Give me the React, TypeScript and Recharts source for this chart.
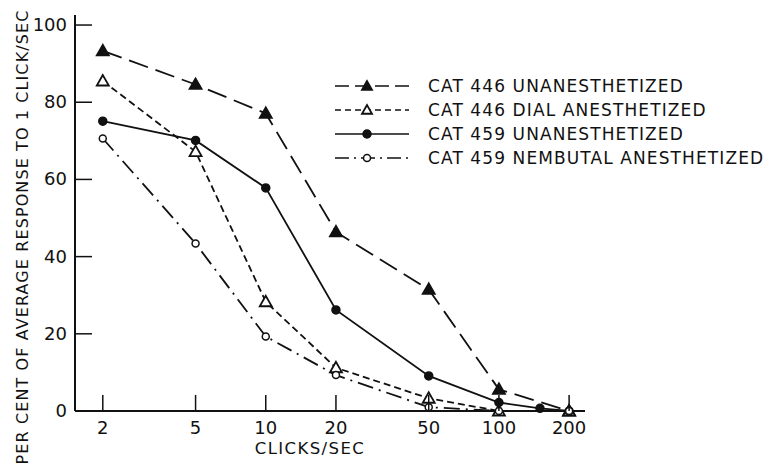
import { LineChart, Line, XAxis, YAxis, Legend } from "recharts";

// click rates (clicks/sec) at which responses were measured
const RATES = [2, 5, 10, 20, 50, 100, 200];
const RATES_459_AWAKE = [2, 5, 10, 20, 50, 100, 150, 200];

// per cent of the average response to 1 click/sec
const CAT446_AWAKE = [93.3, 84.6, 77.1, 46.4, 31.5, 5.6, 0];
const CAT446_DIAL = [85.5, 67.2, 28.3, 11.2, 3.3, 0, 0];
const CAT459_AWAKE = [75.1, 70.1, 57.8, 26.2, 9.1, 2.2, 0.7, 0];
const CAT459_NEMBUTAL = [70.6, 43.4, 19.3, 9.3, 1.0, 0, 0];

const X_TICKS = [2, 5, 10, 20, 50, 100, 200];
const Y_TICKS = [0, 20, 40, 60, 80, 100];

const INK = "#111";
const FONT = "'DejaVu Sans', sans-serif";

type Marker = "triFilled" | "triOpen" | "dotFilled" | "dotOpen";

const zip = (xs: number[], ys: number[]) =>
  xs.map((x, i) => ({ rate: x, value: ys[i] }));

const SERIES: {
  name: string;
  data: { rate: number; value: number }[];
  dash?: string;
  legendDash?: string;
  marker: Marker;
}[] = [
  {
    name: "CAT 446 UNANESTHETIZED",
    data: zip(RATES, CAT446_AWAKE),
    dash: "20 8",
    legendDash: "14 6",
    marker: "triFilled",
  },
  {
    name: "CAT 446 DIAL ANESTHETIZED",
    data: zip(RATES, CAT446_DIAL),
    dash: "7 4",
    legendDash: "6 4",
    marker: "triOpen",
  },
  {
    name: "CAT 459 UNANESTHETIZED",
    data: zip(RATES_459_AWAKE, CAT459_AWAKE),
    marker: "dotFilled",
  },
  {
    name: "CAT 459 NEMBUTAL ANESTHETIZED",
    data: zip(RATES, CAT459_NEMBUTAL),
    dash: "16 6 2 6",
    legendDash: "14 5 2 5",
    marker: "dotOpen",
  },
];

function drawMarker(kind: Marker, cx: number, cy: number, key?: string, s = 6) {
  if (kind === "triFilled" || kind === "triOpen") {
    const pts = `${cx},${cy - s} ${cx - s},${cy + s * 0.75} ${cx + s},${cy + s * 0.75}`;
    return (
      <polygon
        key={key}
        points={pts}
        fill={kind === "triFilled" ? INK : "#fff"}
        stroke={INK}
        strokeWidth={1.8}
      />
    );
  }
  return (
    <circle
      key={key}
      cx={cx}
      cy={cy}
      r={kind === "dotFilled" ? 4 : 3.5}
      fill={kind === "dotFilled" ? INK : "#fff"}
      stroke={INK}
      strokeWidth={1.5}
    />
  );
}

function YTick(props: any) {
  const { x, y, payload } = props;
  const axisX = x + 6;
  return (
    <g>
      <line x1={axisX} y1={y} x2={axisX + 17} y2={y} stroke={INK} strokeWidth={1.5} />
      <text
        x={x - 2}
        y={y}
        dy={6}
        textAnchor="end"
        fontSize={18}
        fontFamily={FONT}
        fill={INK}
      >
        {payload.value}
      </text>
    </g>
  );
}

function XTick(props: any) {
  const { x, y, payload } = props;
  const axisY = y - 6;
  return (
    <g>
      <line x1={x} y1={axisY} x2={x} y2={axisY - 16} stroke={INK} strokeWidth={1.5} />
      <text
        x={x}
        y={y}
        dy={17}
        textAnchor="middle"
        fontSize={18}
        fontFamily={FONT}
        fill={INK}
      >
        {payload.value}
      </text>
    </g>
  );
}

function LegendBox() {
  return (
    <div style={{ fontFamily: FONT, color: INK }}>
      {SERIES.map((s) => (
        <div
          key={s.name}
          style={{ display: "flex", alignItems: "center", height: 24 }}
        >
          <svg width={76} height={20} style={{ marginRight: 17 }}>
            <line
              x1={0}
              y1={10}
              x2={74}
              y2={10}
              stroke={INK}
              strokeWidth={1.6}
              strokeDasharray={s.legendDash}
            />
            {drawMarker(s.marker, 32, 10, undefined, 5)}
          </svg>
          <span style={{ fontSize: 17, letterSpacing: 1.1, whiteSpace: "nowrap" }}>
            {s.name}
          </span>
        </div>
      ))}
    </div>
  );
}

export default function App() {
  return (
    <div
      style={{
        position: "absolute",
        left: 0,
        top: 0,
        width: 773,
        height: 474,
        background: "#fff",
      }}
    >
      <LineChart
        width={773}
        height={474}
        margin={{ top: 15, right: 188, bottom: 0, left: 0 }}
      >
        <XAxis
          dataKey="rate"
          type="number"
          scale="log"
          domain={[1.52, 234]}
          ticks={X_TICKS}
          allowDataOverflow
          height={63}
          stroke={INK}
          strokeWidth={2}
          tickSize={0}
          tickMargin={6}
          tick={<XTick />}
          label={{
            content: () => (
              <text
                x={310}
                y={454}
                textAnchor="middle"
                fontSize={16.5}
                letterSpacing={1.4}
                fontFamily={FONT}
                fill={INK}
              >
                CLICKS/SEC
              </text>
            ),
          }}
        />
        <YAxis
          type="number"
          domain={[0, 102.6]}
          ticks={Y_TICKS}
          width={75}
          stroke={INK}
          strokeWidth={2}
          tickSize={0}
          tickMargin={6}
          tick={<YTick />}
          label={{
            content: () => (
              <text
                x={22}
                y={237}
                transform="rotate(-90 22 237)"
                textAnchor="middle"
                dominantBaseline="central"
                fontSize={16}
                letterSpacing={1.1}
                fontFamily={FONT}
                fill={INK}
              >
                PER CENT OF AVERAGE RESPONSE TO 1 CLICK/SEC
              </text>
            ),
          }}
        />
        <Legend
          layout="horizontal"
          verticalAlign="middle"
          content={<LegendBox />}
          wrapperStyle={{ position: "absolute", left: 335, top: 74, width: 440 }}
        />
        {SERIES.map((s) => (
          <Line
            key={s.name}
            data={s.data}
            dataKey="value"
            name={s.name}
            type="linear"
            stroke={INK}
            strokeWidth={1.8}
            strokeDasharray={s.dash}
            dot={(p: any) => drawMarker(s.marker, p.cx, p.cy, `${s.name}-${p.index}`)}
            activeDot={false}
            isAnimationActive={false}
          />
        ))}
      </LineChart>
    </div>
  );
}
